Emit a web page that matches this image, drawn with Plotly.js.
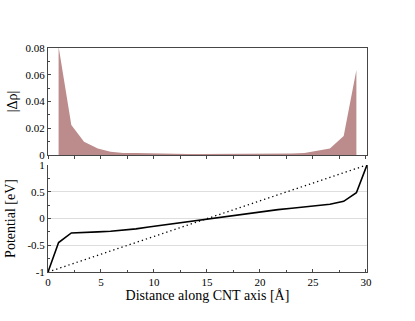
<!DOCTYPE html>
<html>
<head>
<meta charset="utf-8">
<script src="https://cdn.plot.ly/plotly-3.0.1.min.js"></script>
<style>
  html, body { margin: 0; padding: 0; background: #fff; }
  #chart { width: 415px; height: 321px; }
</style>
</head>
<body>
<div id="chart"></div>
<script>
// charge difference along the tube
var rhoX = [1.0, 2.2, 3.4, 4.7, 5.9, 7.1, 8.3, 9.5, 10.8, 12.0, 13.2, 14.4,
            15.6, 16.9, 18.1, 19.3, 20.5, 21.7, 23.0, 24.2, 25.4, 26.6, 27.9, 29.1];
var rhoY = [0.081, 0.0224, 0.0099, 0.005, 0.0025, 0.0015, 0.0015, 0.0012, 0.001, 0.0009, 0.0008, 0.0008,
            0.0008, 0.0008, 0.0008, 0.0009, 0.001, 0.001, 0.0012, 0.0015, 0.003, 0.005, 0.0142, 0.0636];

// electrostatic potential
var potX = [0, 1.0, 2.2, 3.4, 4.7, 5.9, 7.1, 8.3, 9.5, 10.8, 12.0, 13.2, 14.4,
            15.6, 16.9, 18.1, 19.3, 20.5, 21.7, 23.0, 24.2, 25.4, 26.6, 27.9, 29.1, 30.1];
var potY = [-1, -0.45, -0.27, -0.255, -0.25, -0.24, -0.22, -0.195, -0.16, -0.125, -0.09, -0.055, -0.025,
            0.01, 0.045, 0.08, 0.11, 0.14, 0.165, 0.19, 0.215, 0.24, 0.265, 0.32, 0.48, 1.0];

// linear reference
var linX = [0, 30.1];
var linY = [-1, 1];

var rhoTicks = [0, 0.02, 0.04, 0.06, 0.08];
var rhoLabels = ['0', '0.02', '0.04', '0.06', '0.08'];
var potTicks = [-1, -0.5, 0, 0.5, 1];
var potLabels = ['-1', '-0.5', '0', '0.5', '1'];
var distTicks = [0, 5, 10, 15, 20, 25, 30];

var serif = '"Liberation Serif", serif';

var data = [
    {
        x: rhoX, y: rhoY, xaxis: 'x', yaxis: 'y',
        mode: 'lines', fill: 'tozeroy',
        fillcolor: 'rgb(188,140,140)',
        line: { width: 0, color: 'rgb(188,140,140)' },
        hoverinfo: 'skip'
    },
    {
        x: linX, y: linY, xaxis: 'x2', yaxis: 'y2',
        mode: 'lines', line: { color: 'black', width: 1.3, dash: '1.3px,3px' }
    },
    {
        x: potX, y: potY, xaxis: 'x2', yaxis: 'y2',
        mode: 'lines', line: { color: 'black', width: 1.6 }
    }
];

var axisLine = 'rgb(70,70,70)';

var layout = {
    width: 415, height: 321,
    margin: { l: 48, r: 48, t: 48, b: 49 },
    showlegend: false,
    paper_bgcolor: 'white', plot_bgcolor: 'white',
    font: { family: serif, size: 11, color: 'black' },
    xaxis: {
        domain: [0, 1], anchor: 'y', range: [0, 30.1],
        showline: true, linecolor: axisLine, linewidth: 1, mirror: true,
        showgrid: false, zeroline: false,
        dtick: 2.5, tick0: 0, ticks: 'outside', ticklen: 3, tickcolor: axisLine,
        showticklabels: false
    },
    yaxis: {
        domain: [0.522, 1], anchor: 'x', range: [0, 0.08],
        showline: true, linecolor: axisLine, linewidth: 1, mirror: true,
        showgrid: false, zeroline: false,
        tickvals: rhoTicks, ticktext: rhoLabels,
        ticks: 'inside', ticklen: 3, tickcolor: axisLine,
        minor: { dtick: 0.01, tick0: 0, ticks: 'inside', ticklen: 2, tickcolor: axisLine },
        title: { text: '|Δρ|', font: { size: 14 }, standoff: 4 }
    },
    xaxis2: {
        domain: [0, 1], anchor: 'y2', range: [0, 30.1],
        showline: true, linecolor: axisLine, linewidth: 1, mirror: false,
        showgrid: false, zeroline: false,
        tickvals: distTicks, ticks: 'inside', ticklen: 3, tickcolor: axisLine,
        minor: { dtick: 2.5, tick0: 0, ticks: 'inside', ticklen: 2, tickcolor: axisLine },
        title: { text: 'Distance along CNT axis [Å]', font: { size: 14 }, standoff: 2 }
    },
    yaxis2: {
        domain: [0, 0.478], anchor: 'x2', range: [-1, 1],
        showline: true, linecolor: axisLine, linewidth: 1, mirror: true,
        showgrid: true, gridcolor: 'rgb(222,222,222)', gridwidth: 1, zeroline: false,
        tickvals: potTicks, ticktext: potLabels,
        ticks: 'inside', ticklen: 3, tickcolor: axisLine,
        minor: { dtick: 0.25, tick0: 0, ticks: 'inside', ticklen: 2, tickcolor: axisLine, showgrid: false },
        title: { text: 'Potential [eV]', font: { size: 14 }, standoff: 8 }
    }
};

Plotly.newPlot('chart', data, layout, { displayModeBar: false, staticPlot: true });
</script>
</body>
</html>
